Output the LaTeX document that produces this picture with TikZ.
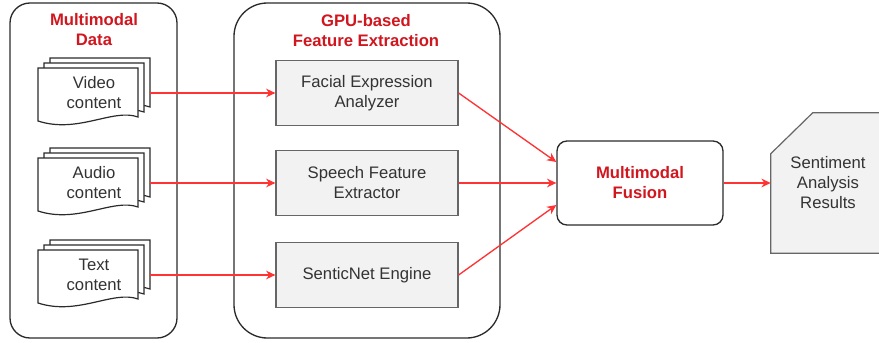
\documentclass[tikz,border=0pt]{standalone}
\usepackage{fontspec}
\setmainfont{Liberation Sans}
\usetikzlibrary{arrows.meta,calc,backgrounds}

\definecolor{linkred}{HTML}{FF3333}
\definecolor{titlered}{HTML}{D0161E}
\definecolor{txtgray}{HTML}{333333}
\definecolor{boxline}{HTML}{2B2B2B}
\definecolor{procline}{HTML}{666666}
\definecolor{procfill}{HTML}{F2F2F2}

\begin{document}
\begin{tikzpicture}[
  x=0.75pt, y=-0.75pt,
  every node/.style={font=\fontsize{12.5}{15}\selectfont, text=txtgray, align=center, inner sep=0pt},
  group/.style={draw=boxline, line width=1pt},
  title/.style={text=titlered, font=\fontsize{12.5}{15}\selectfont\bfseries},
  proc/.style={draw=procline, fill=procfill, line width=0.9pt, minimum width=136.5pt, minimum height=48.75pt},
  page/.style={draw=boxline, fill=white, line width=0.9pt},
  docpage/.pic={\draw[page] (0,0) -- (100,0) -- (100,49) .. controls (75,40) and (40,66) .. (0,53) -- cycle;},
  link/.style={draw=linkred, line width=1pt, -{Stealth[length=7pt,width=6.5pt]}}]
\useasboundingbox (0,0) rectangle (879,343);

\draw[group, rounded corners=15pt] (10,3) rectangle (177,338);
\draw[group, rounded corners=25pt] (234,3) rectangle (500,338);
\node[title] (datatitle) at (94,30) {Multimodal\\Data};
\node[title] (gputitle) at (366,31) {GPU-based\\Feature Extraction};

\foreach \y/\n/\t in {58/vid/Video, 148/aud/Audio, 240/txt/Text} {
  \pic at (50,\y) {docpage};
  \pic at (44,\y+5) {docpage};
  \pic at (38,\y+10) {docpage};
  \node[minimum width=84pt, minimum height=50pt] (\n) at (94,\y+35) {\t\\content};
}

\node[proc] (fea) at (367,93) {Facial Expression\\Analyzer};
\node[proc] (sfe) at (367,183) {Speech Feature\\Extractor};
\node[proc] (sne) at (367,275) {SenticNet Engine};

\node[draw=boxline, line width=1pt, rounded corners=7.5pt, minimum width=124.5pt, minimum height=63pt,
  text=titlered, font=\fontsize{12.5}{15}\selectfont\bfseries] (fus) at (640,183) {Multimodal\\Fusion};

\node[minimum width=85.5pt, minimum height=105pt] (res) at (828,183) {Sentiment\\Analysis\\Results};
\begin{pgfonlayer}{background}
  \draw[draw=procline, fill=procfill, line width=0.9pt] (res.south west) -- ($(res.north west)+(0,41)$)
    -- ($(res.north west)+(42,0)$) -- (res.north east) -- (res.south east) -- cycle;
\end{pgfonlayer}

\draw[link] (vid.east) -- (fea.west);
\draw[link] (aud.east) -- (sfe.west);
\draw[link] (txt.east) -- (sne.west);
\draw[link] (fea.east) -- ($(fus.west)+(0,-21)$);
\draw[link] (sfe.east) -- (fus.west);
\draw[link] (sne.east) -- ($(fus.west)+(0,22)$);
\draw[link] (fus.east) -- (res.west);
\end{tikzpicture}
\end{document}
